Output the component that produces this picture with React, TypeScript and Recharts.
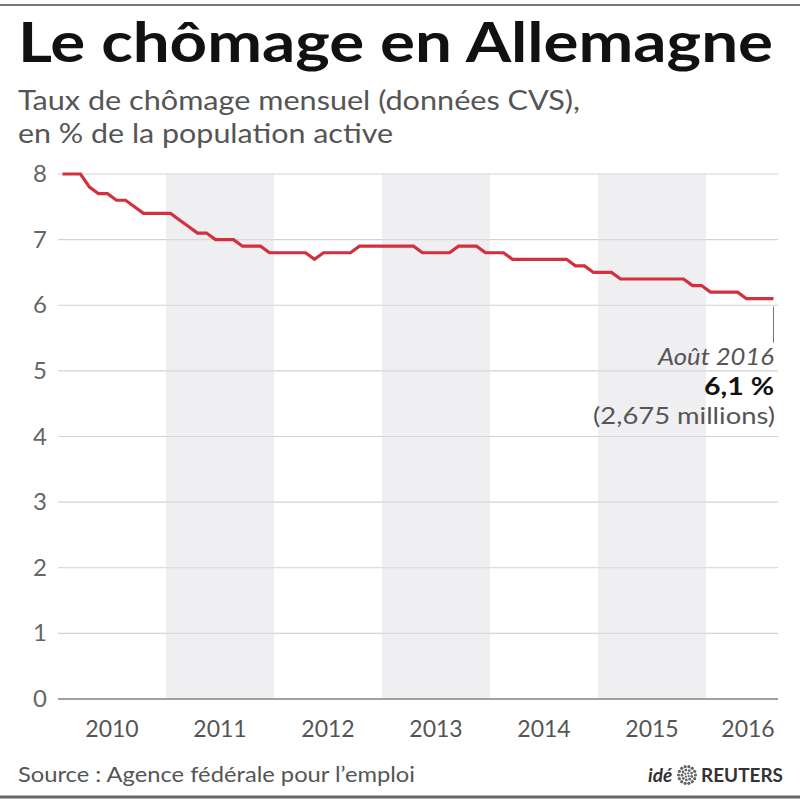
import React from 'react';
import { LineChart, Line, XAxis, YAxis, CartesianGrid, ReferenceArea, ReferenceLine } from 'recharts';

// Monthly unemployment rate (%), Jan 2010 -> Aug 2016
const rates = [
  8.0, 8.0, 8.0, 7.8, 7.7, 7.7, 7.6, 7.6, 7.5, 7.4, 7.4, 7.4,
  7.4, 7.3, 7.2, 7.1, 7.1, 7.0, 7.0, 7.0, 6.9, 6.9, 6.9, 6.8,
  6.8, 6.8, 6.8, 6.8, 6.7, 6.8, 6.8, 6.8, 6.8, 6.9, 6.9, 6.9,
  6.9, 6.9, 6.9, 6.9, 6.8, 6.8, 6.8, 6.8, 6.9, 6.9, 6.9, 6.8,
  6.8, 6.8, 6.7, 6.7, 6.7, 6.7, 6.7, 6.7, 6.7, 6.6, 6.6, 6.5,
  6.5, 6.5, 6.4, 6.4, 6.4, 6.4, 6.4, 6.4, 6.4, 6.4, 6.3, 6.3,
  6.2, 6.2, 6.2, 6.2, 6.1, 6.1, 6.1, 6.1,
];
const startYear = 2010;
const yearLabels = ['2010', '2011', '2012', '2013', '2014', '2015', '2016'];
const shadedYears = ['2011', '2013', '2015'];
const yTicks = [0, 1, 2, 3, 4, 5, 6, 7, 8];

const titleText = 'Le chômage en Allemagne';
const subtitle1 = 'Taux de chômage mensuel (données CVS),';
const subtitle2 = 'en % de la population active';
const sourceText = 'Source : Agence fédérale pour l\u2019emploi';
const noteDate = 'Août 2016';
const noteValue = '6,1 %';
const noteCount = '(2,675 millions)';

const data = rates.map((v, i) => ({ i, v }));
const lastIndex = rates.length - 1;

const xTicks = yearLabels.map((_, k) => {
  const first = k * 12;
  const last = Math.min(k * 12 + 11, lastIndex);
  return (first + last) / 2;
});

const bands = shadedYears.map((y) => {
  const k = Number(y) - startYear;
  return { x1: k * 12 - 0.5, x2: k * 12 + 11.5 };
});

const FONT = 'Lato, "Open Sans", sans-serif';

const XTick = (props: any) => {
  const { x, y, payload, index } = props;
  const k = xTicks.indexOf(payload.value);
  const isLast = index === xTicks.length - 1;
  return (
    <text x={x + (isLast ? 6 : 0)} y={y} dy={38} textAnchor="middle" fontFamily={FONT} fontSize={23} fill="#555">
      {yearLabels[k]}
    </text>
  );
};

const YTick = (props: any) => {
  const { x, y, payload } = props;
  return (
    <text x={x - 18} y={y} dy={8} textAnchor="middle" fontFamily={FONT} fontSize={24} fill="#666">
      {payload.value}
    </text>
  );
};

const Logo = () => {
  const dots: React.ReactNode[] = [];
  const rings = [
    { r: 8.5, n: 14, s: 1.6 },
    { r: 5, n: 9, s: 1.4 },
    { r: 2, n: 4, s: 1.1 },
  ];
  rings.forEach((ring, ri) => {
    for (let j = 0; j < ring.n; j++) {
      const a = (j / ring.n) * Math.PI * 2 + ri * 0.3;
      dots.push(
        <circle key={`${ri}-${j}`} cx={687 + ring.r * Math.cos(a)} cy={775 + ring.r * Math.sin(a)} r={ring.s} fill="#666" />
      );
    }
  });
  return <g>{dots}</g>;
};

export default function App() {
  return (
    <div style={{ position: 'absolute', left: 0, top: 0, width: 800, height: 800, background: '#fff' }}>
      <LineChart width={800} height={800} data={data} margin={{ top: 174, right: 22, bottom: 71, left: 0 }}>
        {bands.map((b, idx) => (
          <ReferenceArea key={idx} x1={b.x1} x2={b.x2} y1={0} y2={8} fill="#dfdfe6" fillOpacity={0.5} stroke="none" ifOverflow="visible" />
        ))}
        <CartesianGrid vertical={false} stroke="#d2d2d2" strokeWidth={1.2} />
        <XAxis
          type="number"
          dataKey="i"
          domain={[-0.5, 79.5]}
          ticks={xTicks}
          tick={<XTick />}
          tickLine={false}
          tickSize={0}
          tickMargin={0}
          height={30}
          axisLine={{ stroke: '#888', strokeWidth: 1.5 }}
          interval={0}
          allowDataOverflow
        />
        <YAxis
          type="number"
          domain={[0, 8]}
          ticks={yTicks}
          tick={<YTick />}
          width={58}
          axisLine={false}
          tickLine={false}
          tickSize={0}
          tickMargin={0}
          interval={0}
        />
        <ReferenceLine
          segment={[{ x: lastIndex, y: 5.98 }, { x: lastIndex, y: 5.43 }]}
          stroke="#777"
          strokeWidth={1}
          ifOverflow="visible"
        />
        <Line type="linear" dataKey="v" stroke="#d32f3c" strokeWidth={3.2} dot={false} isAnimationActive={false} />
      </LineChart>
      <svg width={800} height={800} style={{ position: 'absolute', left: 0, top: 0, pointerEvents: 'none' }}>
        <line x1={0} y1={5} x2={800} y2={5} stroke="#777" strokeWidth={2} />
        <line x1={0} y1={797} x2={800} y2={797} stroke="#666" strokeWidth={3} />
        <text x={18} y={62} fontFamily={FONT} fontWeight={700} fontSize={56} fill="#111" textLength={755} lengthAdjust="spacingAndGlyphs">
          {titleText}
        </text>
        <text x={18} y={110} fontFamily={FONT} fontSize={27} fill="#555" textLength={562} lengthAdjust="spacingAndGlyphs">
          {subtitle1}
        </text>
        <text x={18} y={143} fontFamily={FONT} fontSize={27} fill="#555" textLength={375} lengthAdjust="spacingAndGlyphs">
          {subtitle2}
        </text>
        <text x={774} y={365} textAnchor="end" fontFamily={FONT} fontStyle="italic" fontSize={24} fill="#555" textLength={116} lengthAdjust="spacingAndGlyphs">
          {noteDate}
        </text>
        <text x={774} y={395} textAnchor="end" fontFamily={FONT} fontWeight={700} fontSize={24} fill="#111" textLength={70} lengthAdjust="spacingAndGlyphs">
          {noteValue}
        </text>
        <text x={775} y={424} textAnchor="end" fontFamily={FONT} fontSize={24} fill="#555" textLength={182} lengthAdjust="spacingAndGlyphs">
          {noteCount}
        </text>
        <text x={18} y={782} fontFamily={FONT} fontSize={21} fill="#555" textLength={397} lengthAdjust="spacingAndGlyphs">
          {sourceText}
        </text>
        <text x={648} y={782} fontFamily={FONT} fontWeight={700} fontStyle="italic" fontSize={19} fill="#333">
          idé
        </text>
        <Logo />
        <text x={701} y={782} fontFamily={FONT} fontWeight={700} fontSize={19} fill="#333" textLength={82} lengthAdjust="spacingAndGlyphs">
          REUTERS
        </text>
      </svg>
    </div>
  );
}
